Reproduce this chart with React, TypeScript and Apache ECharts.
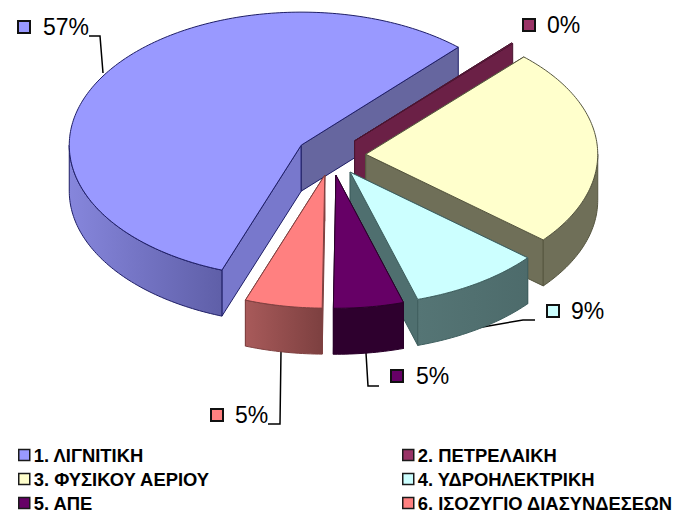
import React, { useEffect, useRef } from "react";
import * as echarts from "echarts";

const CATEGORIES = [
  "1. ΛΙΓΝΙΤΙΚΗ",
  "2. ΠΕΤΡΕΛΑΙΚΗ",
  "3. ΦΥΣΙΚΟΥ ΑΕΡΙΟΥ",
  "4. ΥΔΡΟΗΛΕΚΤΡΙΚΗ",
  "5. ΑΠΕ",
  "6. ΙΣΟΖΥΓΙΟ ΔΙΑΣΥΝΔΕΣΕΩΝ",
];
const VALUES = [56.5, 0.1, 24.3, 9.2, 4.9, 5.4];
const VALUE_LABELS = ["57%", "0%", "24%", "9%", "5%", "5%"];

const TOP_COLORS = ["#9999FF", "#993366", "#FFFFCC", "#CCFFFF", "#660066", "#FF8080"];
const RIM_LEFT = ["#8686DC", "#6B2046", "#6F6F58", "#557575", "#2E002E", "#A85A5A"];
const RIM_RIGHT = ["#5F5FA8", "#6B2046", "#6F6F58", "#4D6B6B", "#2E002E", "#7D4040"];
const START_WALL = ["#7878CC", "#6B2046", "#6F6F58", "#4F6F6F", "#2E002E", "#8A4444"];
const END_WALL = ["#66669F", "#6B2046", "#6F6F58", "#4F6F6F", "#2E002E", "#8A4444"];
const STROKES = ["#1E1E66", "#4A1530", "#55553F", "#3F5F5F", "#2A002A", "#7F4040"];

// pie geometry
const CX = 331;
const CY = 155.5;
const RX = 232;
const RY = 133;
const DEPTH = 46;
const EXPLODE = 0.15;
const START_DEG = 200;

const TOTAL = VALUES.reduce((a, b) => a + b, 0);
const rad = (d: number) => (d * Math.PI) / 180;

const sliceRange = (i: number) => {
  const before = VALUES.slice(0, i).reduce((a, b) => a + b, 0);
  return [START_DEG + (before / TOTAL) * 360, START_DEG + ((before + VALUES[i]) / TOTAL) * 360];
};

const arcPts = (ax: number, ay: number, a0: number, a1: number, dy: number) => {
  const pts: number[][] = [];
  const n = Math.max(1, Math.ceil(Math.abs(a1 - a0)));
  for (let k = 0; k <= n; k++) {
    const t = rad(a0 + ((a1 - a0) * k) / n);
    pts.push([ax + RX * Math.sin(t), ay - RY * Math.cos(t) + dy]);
  }
  return pts;
};

const renderSlice = (i: number) => (_params: any, api: any) => {
  const sweep = (api.value(0) / TOTAL) * 360;
  const [a0] = sliceRange(i);
  const a1 = a0 + sweep;
  const mid = rad((a0 + a1) / 2);
  const ax = CX + EXPLODE * RX * Math.sin(mid);
  const ay = CY - EXPLODE * RY * Math.cos(mid);
  const lineStyle = { stroke: STROKES[i], lineWidth: 1 };
  const children: any[] = [];

  const radial = (deg: number, fill: string) => {
    const p = arcPts(ax, ay, deg, deg, 0)[0];
    children.push({
      type: "polygon",
      shape: { points: [[ax, ay], p, [p[0], p[1] + DEPTH], [ax, ay + DEPTH]] },
      style: { fill, ...lineStyle },
    });
  };
  radial(a0, START_WALL[i]);
  radial(a1, END_WALL[i]);

  // rim wall: only where the rim faces the viewer (90..270 clock degrees, modulo 360)
  [0, 360].forEach((shift) => {
    const f0 = Math.max(a0, 90 + shift);
    const f1 = Math.min(a1, 270 + shift);
    if (f1 > f0) {
      const top = arcPts(ax, ay, f0, f1, 0);
      const bottom = arcPts(ax, ay, f0, f1, DEPTH).reverse();
      children.push({
        type: "polygon",
        shape: { points: [...top, ...bottom] },
        style: {
          fill: new echarts.graphic.LinearGradient(0, 0, 1, 0, [
            { offset: 0, color: RIM_LEFT[i] },
            { offset: 1, color: RIM_RIGHT[i] },
          ]),
          ...lineStyle,
        },
      });
    }
  });

  children.push({
    type: "polygon",
    shape: { points: [[ax, ay], ...arcPts(ax, ay, a0, a1, 0)] },
    style: { fill: TOP_COLORS[i], ...lineStyle },
  });
  return { type: "group", children };
};

// value-label layout: marker box, text start, leader line
const LABEL_BOX = [
  [18, 21],
  [523, 19],
  [515, 142],
  [547, 305],
  [391, 370],
  [211, 409],
];
const LABEL_TEXT_X = [43, 547, 539, 571, 416, 235];
const LEADERS: number[][][] = [
  [[89, 36], [100, 36], [103, 73]],
  [],
  [],
  [[477, 328], [523, 320], [535, 320]],
  [[366, 353], [368, 386], [379, 386]],
  [[268, 424], [280, 424], [281, 351]],
];

const LEGEND_TEXT = {
  fontFamily: "Liberation Sans",
  fontWeight: "bold" as const,
  fontSize: 18.4,
  color: "#000",
  lineHeight: 18,
  padding: [0, 0, 0, -1],
};

const legendBase = {
  orient: "vertical" as const,
  top: 446,
  padding: 0,
  icon: "rect",
  itemWidth: 11,
  itemHeight: 11,
  itemGap: 6,
  selectedMode: false,
  textStyle: LEGEND_TEXT,
};

const legendItems = (idx: number[]) =>
  idx.map((i) => ({
    name: CATEGORIES[i],
    icon: "rect",
    itemStyle: { color: TOP_COLORS[i], borderColor: "#1a1a1a", borderWidth: 1.5 },
    textStyle: LEGEND_TEXT,
  }));

export default function App() {
  const ref = useRef<HTMLDivElement>(null);
  useEffect(() => {
    const chart = echarts.init(ref.current!, undefined, { renderer: "svg" });
    const graphics: any[] = [];
    VALUE_LABELS.forEach((label, i) => {
      const [bx, by] = LABEL_BOX[i];
      graphics.push({
        type: "rect",
        shape: { x: bx, y: by, width: 12, height: 12 },
        style: { fill: TOP_COLORS[i], stroke: "#111", lineWidth: 2 },
        silent: true,
      });
      graphics.push({
        type: "text",
        x: LABEL_TEXT_X[i],
        y: by + 6,
        style: {
          text: label,
          fontFamily: "Liberation Sans",
          fontSize: 23,
          fill: "#000",
          verticalAlign: "middle",
        },
        silent: true,
      });
      if (LEADERS[i].length) {
        graphics.push({
          type: "polyline",
          shape: { points: LEADERS[i] },
          style: { stroke: "#000", lineWidth: 1.5, fill: "none" },
          silent: true,
        });
      }
    });

    chart.setOption({
      animation: false,
      backgroundColor: "#fff",
      legend: [
        { ...legendBase, left: 18, data: legendItems([0, 2, 4]) },
        { ...legendBase, left: 402, data: legendItems([1, 3, 5]) },
      ],
      series: CATEGORIES.map((name, i) => ({
        type: "custom",
        name,
        coordinateSystem: "none",
        silent: true,
        itemStyle: { color: TOP_COLORS[i] },
        data: [[VALUES[i]]],
        renderItem: renderSlice(i),
      })),
      graphic: { elements: graphics },
    });
    return () => chart.dispose();
  }, []);
  return <div ref={ref} style={{ position: "absolute", left: 0, top: 0, width: 678, height: 512 }} />;
}
